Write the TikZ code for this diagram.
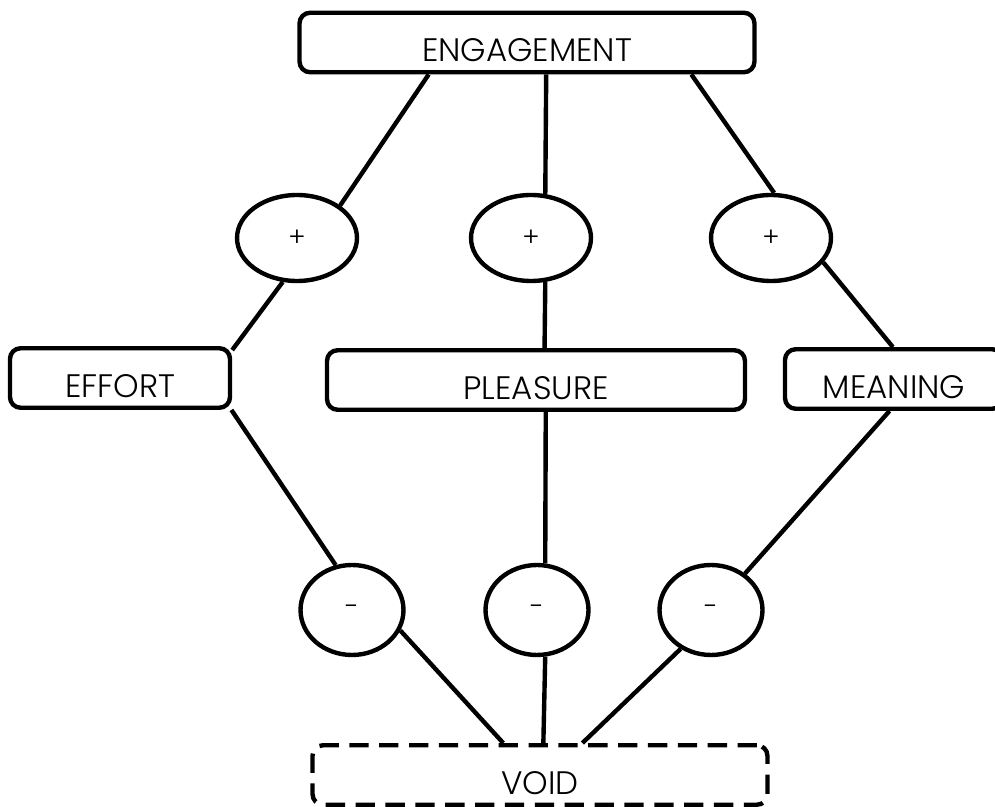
\documentclass[tikz,border=0pt]{standalone}
\usepackage{fontspec}
\setmainfont{Poppins}[UprightFont=* Light]
\usetikzlibrary{shapes.geometric}
\begin{document}
\begin{tikzpicture}[x=0.02cm,y=-0.02cm]
\tikzstyle{every node}=[inner sep=0pt]
\tikzstyle{box}=[rectangle,rounded corners=6pt,draw,line width=2.5pt,minimum height=1.19cm,text height=22pt,text depth=0pt,font=\fontsize{18.5}{20}\selectfont]
\tikzstyle{plus}=[ellipse,draw,line width=2.5pt,minimum width=2.4cm,minimum height=1.72cm,font=\fontsize{15}{17}\selectfont]
\tikzstyle{minus}=[ellipse,draw,line width=2.5pt,minimum width=2.06cm,minimum height=1.8cm,font=\fontsize{15}{17}\selectfont]
\useasboundingbox (0,0) rectangle (995,807);
\node[box,minimum width=9.1cm] (1) at (527,42.5) {ENGAGEMENT};
\node[plus] (2) at (297,238) {+};
\node[plus] (3) at (531,238) {+};
\node[plus] (4) at (771,238) {+};
\node[box,minimum width=4.4cm] (5) at (120,378) {EFFORT};
\node[box,minimum width=8.36cm] (6) at (536,380) {PLEASURE};
\node[box,minimum width=4.36cm] (7) at (894,379) {MEANING};
\node[minus] (8) at (352,610) {-};
\node[minus] (9) at (537,610) {-};
\node[minus] (10) at (711,610) {-};
\node[box,minimum width=9.1cm,dash pattern=on 11pt off 6pt] (11) at (540,775) {VOID};
\path[line width=2.5pt]
	(1.198) edge (2.37)
    (1.301) edge (3.72)
    (1.349) edge (4.86)
    (2.252) edge (5.14)
    (3.288) edge (6.75)
    (4.335) edge (7.92);
\path[line width=2.5pt]
	(5.344) edge (8.110)
    (6.287) edge (9.80)
    (7.262) edge (10.47)
    (8.337) edge (11.139)
    (9.280) edge (11.84)
    (10.232) edge (11.37);
\end{tikzpicture}
\end{document}
